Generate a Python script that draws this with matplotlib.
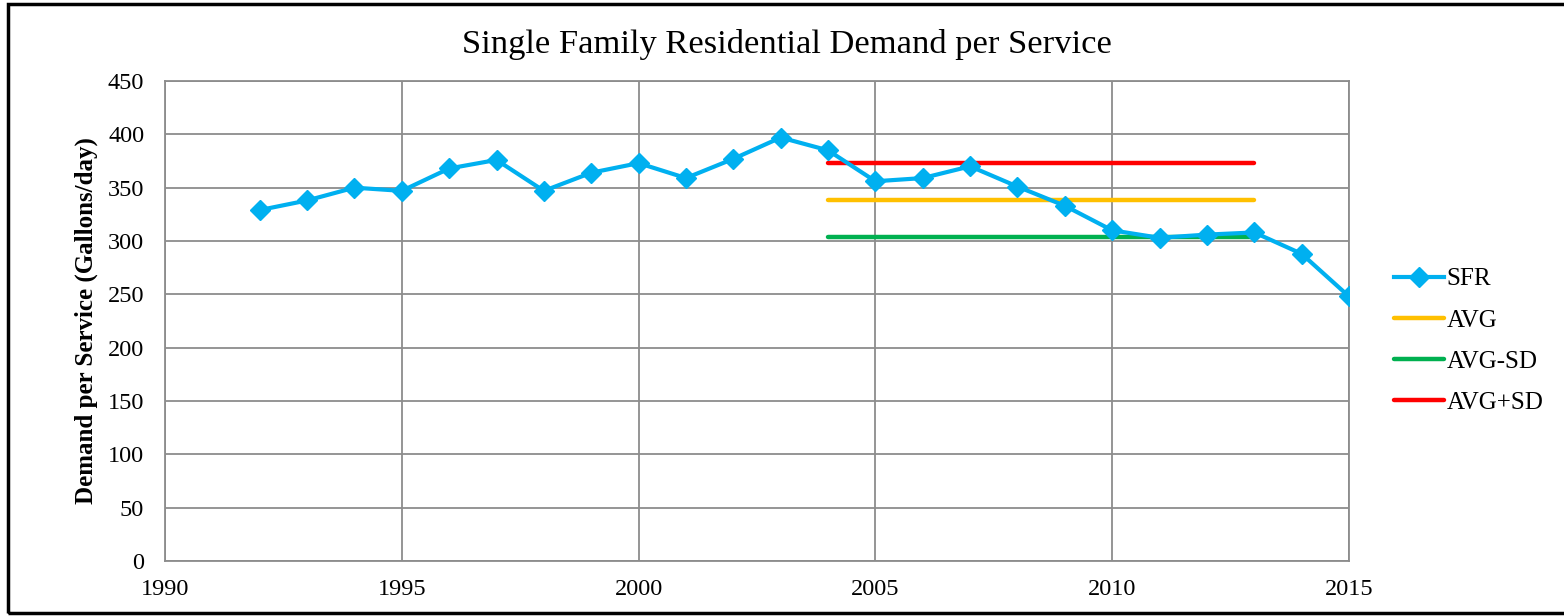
import matplotlib.pyplot as plt
from matplotlib.patches import Rectangle

# values
years = list(range(1992, 2016))
sfr = [329, 338, 350, 347, 368, 376, 347, 364, 373, 359, 377, 397,
       385, 356, 359, 370, 351, 333, 310, 303, 306, 308, 288, 248]

stat_years = [2004, 2013]
avg = 338.5
avg_minus_sd = 303.5
avg_plus_sd = 373.5

plt.rcParams['font.family'] = ['Liberation Serif', 'DejaVu Serif']

fig = plt.figure(figsize=(15.64, 6.16), dpi=100)
ax = fig.add_axes([165 / 1564, 1 - 561 / 616, (1349 - 165) / 1564, (561 - 81) / 616])

ax.plot(years, sfr, color='#00B0F0', lw=3, marker='D', ms=10, label='SFR', zorder=4)
ax.plot(stat_years, [avg, avg], color='#FFC000', lw=3.2, solid_capstyle='round', label='AVG', zorder=3)
ax.plot(stat_years, [avg_minus_sd, avg_minus_sd], color='#00B050', lw=3.2, solid_capstyle='round', label='AVG-SD', zorder=3)
ax.plot(stat_years, [avg_plus_sd, avg_plus_sd], color='#FF0000', lw=3.2, solid_capstyle='round', label='AVG+SD', zorder=3)

ax.set_xlim(1990, 2015)
ax.set_ylim(0, 450)
ax.set_xticks(range(1990, 2016, 5))
ax.set_yticks(range(0, 451, 50))
ax.grid(True, color='#8c8c8c', lw=1.3)
ax.set_axisbelow(True)
for s in ax.spines.values():
    s.set_color('#8c8c8c')
    s.set_linewidth(1.3)
ax.tick_params(length=0, labelsize=17.5)
ax.tick_params(axis='x', pad=13)
ax.tick_params(axis='y', pad=15)

ax.set_ylabel('Demand per Service (Gallons/day)', fontsize=18, fontweight='bold', labelpad=7)
fig.text(0.503, 1 - 45 / 616, 'Single Family Residential Demand per Service',
         fontsize=24.8, ha='center', va='center')

ax.legend(loc='center left', bbox_to_anchor=(1384 / 1564, 1 - 341 / 616), bbox_transform=fig.transFigure,
          frameon=False, fontsize=18, handlelength=2.0, handletextpad=0.1, labelspacing=0.75,
          borderaxespad=0)

fig.patches.append(Rectangle((8 / 1564, 1 - 613 / 616), 1.1, (613 - 4) / 616, transform=fig.transFigure,
                             fill=False, edgecolor='black', lw=2.5, clip_on=False))

fig.savefig('out.png', dpi=100)
